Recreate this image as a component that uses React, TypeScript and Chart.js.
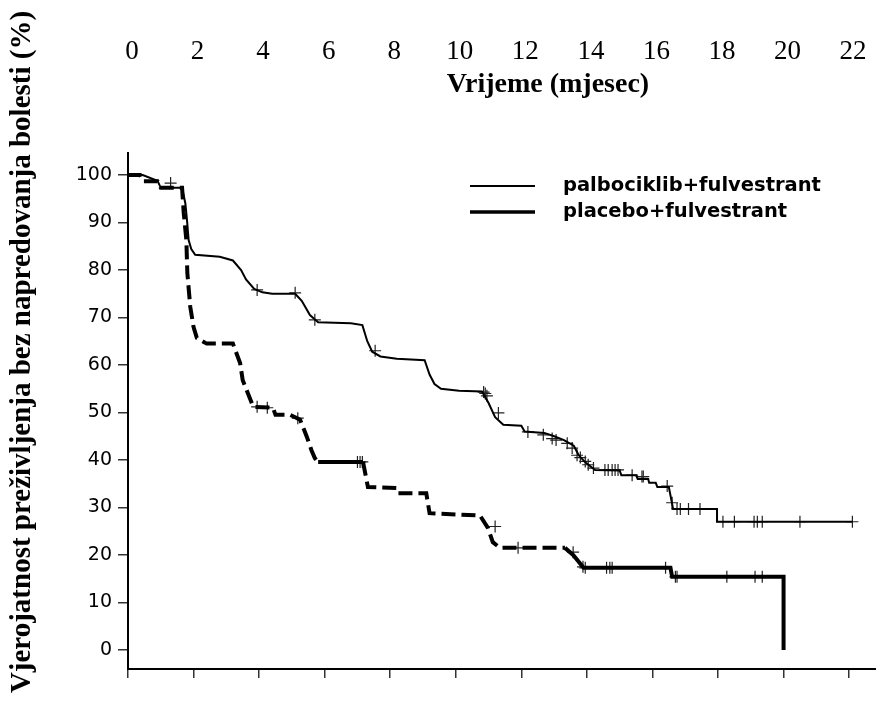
import { useEffect, useRef } from "react";
import { Chart, registerables } from "chart.js";

Chart.register(...registerables);

// ---- data ----
const xTickValues = [0, 2, 4, 6, 8, 10, 12, 14, 16, 18, 20, 22];
const yTickValues = [0, 10, 20, 30, 40, 50, 60, 70, 80, 90, 100];
const seriesNames = ["palbociklib+fulvestrant", "placebo+fulvestrant"];
const xAxisTitle = "Vrijeme (mjesec)";
const yAxisTitle = "Vjerojatnost preživljenja bez napredovanja bolesti (%)";

const palboMonths = [
  0, 0.45, 0.9, 1.0, 1.65, 1.75, 1.8, 1.85, 1.93, 2.05, 2.8, 3.2, 3.45, 3.6, 3.85, 4.1, 4.4, 5.1,
  5.3, 5.55, 5.8, 6.8, 7.15, 7.3, 7.45, 7.7, 8.2, 9.05, 9.2, 9.35, 9.55, 10.1, 10.8, 11.0, 11.2,
  11.45, 12.0, 12.1, 12.7, 13.0, 13.3, 13.6, 13.75, 13.95, 14.25, 15.0, 15.05, 15.5, 15.55, 15.87,
  15.9, 16.1, 16.15, 16.5, 16.63, 17.97, 17.97, 22.1,
];
const palboSurvival = [
  100, 100, 98.8, 97.3, 97.3, 94, 90.5, 86.3, 84.4, 83.2, 82.8, 82, 80, 78, 76, 75.3, 75, 75,
  73.5, 70.5, 69, 68.8, 68.4, 65, 62.8, 61.8, 61.3, 61, 58, 56, 55, 54.6, 54.4, 52, 49,
  47.4, 47.2, 46, 45.7, 45, 44.2, 43, 41, 39.5, 37.9, 37.8, 36.8, 36.8, 36.0, 36.0,
  35.2, 35.2, 34.3, 34.3, 29.7, 29.7, 27.0, 27.0,
];

const placeboMonths = [
  0, 0.37, 0.45, 0.9, 1.0, 1.65, 1.7, 1.78, 1.81, 1.9, 2.0, 2.1, 2.4, 3.2, 3.42, 3.5, 3.66, 3.82,
  4.42, 4.5, 4.95, 5.25, 5.46, 5.6, 5.7, 5.8, 7.17, 7.32, 8.2, 8.25, 9.1, 9.2, 10.74, 10.98, 11.13,
  11.35, 13.33, 13.58, 13.88, 13.9, 16.55, 16.6, 19.77, 20.0, 20.0,
];
const placeboSurvival = [
  100, 100, 98.7, 98.7, 97.3, 97.3, 92, 86.3, 79.4, 72.2, 68, 65.7, 64.5, 64.5, 60.4, 56.8, 54, 51.2,
  51, 49.5, 49.5, 48.5, 44.8, 42, 40.4, 39.6, 39.6, 34.3, 34.1, 33, 33, 28.8, 28.3, 25.7, 22.7,
  21.5, 21.5, 20, 17.5, 17.3, 17.3, 15.4, 15.4, 15.4, 0,
];

const palboCensorMonths = [
  1.3, 3.94, 5.1, 5.7, 7.54, 10.85, 10.9, 10.95, 11.3, 12.2, 12.67, 12.94, 13.06, 13.4, 13.55,
  13.7, 13.8, 13.95, 14.04, 14.2, 14.55, 14.65, 14.77, 14.86, 14.95, 15.38, 15.68, 15.72, 16.45,
  16.6, 16.75, 16.85, 17.1, 17.45, 18.15, 18.5, 19.1, 19.2, 19.35, 20.5, 22.1,
];
const palboCensorSurvival = [
  98.3, 75.8, 75.2, 69.5, 63, 54.3, 54, 53.5, 49.9, 45.9, 45.3, 44.5, 44.2, 43.5, 42.5,
  41, 40.5, 39.7, 39, 38.3, 37.9, 37.9, 37.9, 37.9, 37.9, 36.8, 36.5, 36.5, 34.5,
  31, 29.7, 29.7, 29.7, 29.7, 27, 27, 27, 27, 27, 27, 27,
];

const placeboCensorMonths = [
  3.94, 4.25, 5.18, 7.0, 7.08, 7.15, 11.2, 11.9, 13.58, 13.88, 13.95, 14.6, 14.7, 14.77, 16.4,
  16.7, 16.75, 18.27, 19.13, 19.35,
];
const placeboCensorSurvival = [
  51.2, 51, 48.8, 39.6, 39.6, 39.6, 26, 21.5, 20.6, 17.5, 17.3, 17.3, 17.3, 17.3, 17.3,
  15.4, 15.4, 15.4, 15.4, 15.4,
];

const toPoints = (xs: number[], ys: number[]) => xs.map((x, i) => ({ x, y: ys[i] }));

const X_MIN = 0;
const X_MAX = 22.82;
const Y_MIN = -4;
const Y_MAX = 104.63;

export default function App() {
  const canvasRef = useRef<HTMLCanvasElement | null>(null);

  useEffect(() => {
    const canvas = canvasRef.current;
    if (!canvas) return;

    const titlesAndLegend = {
      id: "titlesAndLegend",
      afterDraw(chart: any) {
        const ctx = chart.ctx as CanvasRenderingContext2D;
        ctx.save();
        ctx.fillStyle = "#000";
        // x title (below the top tick labels)
        ctx.font = "bold 28px 'Liberation Serif'";
        ctx.textAlign = "center";
        ctx.textBaseline = "middle";
        ctx.fillText(xAxisTitle, 548, 85);
        // y title
        ctx.save();
        ctx.translate(23, 352);
        ctx.rotate(-Math.PI / 2);
        ctx.font = "bold 29px 'Liberation Serif'";
        ctx.fillText(yAxisTitle, 0, 0);
        ctx.restore();
        // legend
        ctx.strokeStyle = "#000";
        ctx.lineWidth = 2;
        ctx.beginPath();
        ctx.moveTo(470, 186);
        ctx.lineTo(535, 186);
        ctx.stroke();
        ctx.lineWidth = 3.5;
        ctx.beginPath();
        ctx.moveTo(470, 212);
        ctx.lineTo(535, 212);
        ctx.stroke();
        ctx.font = "bold 19.5px 'DejaVu Sans'";
        ctx.textAlign = "left";
        ctx.fillText(seriesNames[0], 563, 186);
        ctx.fillText(seriesNames[1], 563, 212);
        ctx.restore();
      },
    };

    const chart = new Chart(canvas, {
      type: "line",
      data: {
        datasets: [
          {
            label: seriesNames[0],
            data: toPoints(palboMonths, palboSurvival),
            borderColor: "#000",
            borderWidth: 2,
            pointRadius: 0,
            tension: 0,
            fill: false,
          },
          {
            label: seriesNames[1],
            data: toPoints(placeboMonths, placeboSurvival),
            borderColor: "#000",
            borderWidth: 4,
            pointRadius: 0,
            tension: 0,
            fill: false,
            segment: {
              borderDash: (c: any) =>
                c.p0.parsed.x < 11.4 && !(c.p0.parsed.y === 39.6 && c.p1.parsed.y === 39.6)
                  ? [14, 6]
                  : undefined,
            },
          },
          {
            label: "censor1",
            data: toPoints(palboCensorMonths, palboCensorSurvival),
            showLine: false,
            pointStyle: "cross",
            pointRadius: 6,
            borderWidth: 1.2,
            borderColor: "#222",
          },
          {
            label: "censor2",
            data: toPoints(placeboCensorMonths, placeboCensorSurvival),
            showLine: false,
            pointStyle: "cross",
            pointRadius: 6,
            borderWidth: 1.2,
            borderColor: "#222",
          },
        ],
      },
      options: {
        responsive: false,
        animation: false,
        layout: { padding: 0, autoPadding: false },
        plugins: {
          legend: { display: false },
          tooltip: { enabled: false },
        },
        scales: {
          x: {
            type: "linear",
            position: "bottom",
            min: X_MIN,
            max: X_MAX,
            afterBuildTicks: (s: any) => {
              s.ticks = xTickValues.map((v) => ({ value: v }));
            },
            afterFit: (s: any) => {
              s.height = 38;
              s.paddingLeft = 0;
              s.paddingRight = 0;
            },
            ticks: { display: false },
            grid: {
              display: true,
              drawOnChartArea: false,
              drawTicks: true,
              tickLength: 9,
              color: "#333",
              lineWidth: 1.5,
            },
            border: { display: true, color: "#000", width: 2 },
          },
          xTop: {
            type: "linear",
            position: "top",
            min: X_MIN - 0.122,
            max: X_MAX - 0.122,
            afterBuildTicks: (s: any) => {
              s.ticks = xTickValues.map((v) => ({ value: v }));
            },
            afterFit: (s: any) => {
              s.height = 153;
              s.paddingLeft = 0;
              s.paddingRight = 0;
            },
            ticks: {
              color: "#000",
              font: { family: "'Liberation Serif'", size: 27 },
              padding: 85,
              maxRotation: 0,
              autoSkip: false,
            },
            grid: { display: false, drawTicks: false, tickLength: 0 },
            border: { display: false },
          },
          y: {
            type: "linear",
            min: Y_MIN,
            max: Y_MAX,
            afterBuildTicks: (s: any) => {
              s.ticks = yTickValues.map((v) => ({ value: v }));
            },
            afterFit: (s: any) => {
              s.width = 128;
              s.paddingTop = 0;
              s.paddingBottom = 0;
            },
            ticks: {
              color: "#000",
              font: { family: "'DejaVu Sans'", size: 19 },
              padding: 6,
            },
            grid: {
              display: true,
              drawOnChartArea: false,
              drawTicks: true,
              tickLength: 10,
              color: "#333",
              lineWidth: 1.5,
            },
            border: { display: true, color: "#000", width: 2 },
          },
        },
      },
      plugins: [titlesAndLegend],
    } as any);

    return () => {
      chart.destroy();
    };
  }, []);

  return (
    <div style={{ position: "absolute", left: 0, top: 0, width: 876, height: 707, background: "#fff" }}>
      <canvas ref={canvasRef} width={876} height={707} style={{ display: "block" }} />
    </div>
  );
}
